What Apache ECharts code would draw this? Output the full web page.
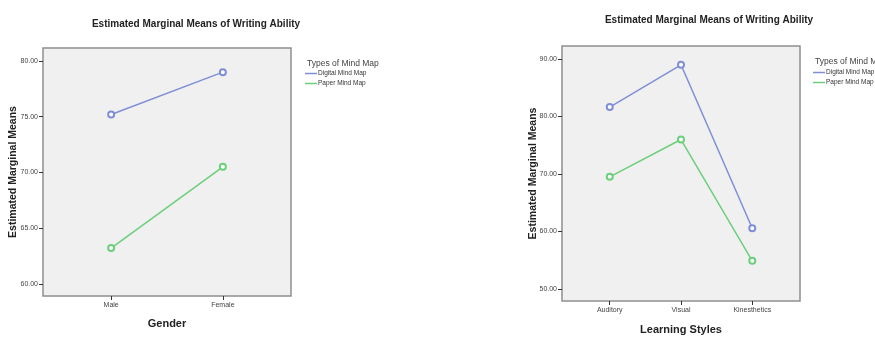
<!DOCTYPE html>
<html><head><meta charset="utf-8">
<script src="https://cdn.jsdelivr.net/npm/echarts@6/dist/echarts.min.js"></script>
<style>html,body{margin:0;padding:0;background:#fff}#c{width:875px;height:340px}</style>
</head><body><div id="c"></div>
<script>
const genderCats = ['Male', 'Female'];
const genderDigital = [75.2, 79.0];
const genderPaper = [63.2, 70.5];
const genderTicks = [60, 65, 70, 75, 80];

const styleCats = ['Auditory', 'Visual', 'Kinesthetics'];
const styleDigital = [81.65, 89.0, 60.55];
const stylePaper = [69.5, 76.0, 54.9];
const styleTicks = [50, 60, 70, 80, 90];

const titleText = 'Estimated Marginal Means of Writing Ability';
const yName = 'Estimated Marginal Means';
const legendTitle = 'Types of Mind Map';
const seriesNames = ['Digital Mind Map', 'Paper Mind Map'];
const colors = ['#7f8fd6', '#6ccf7b'];
const FONT = 'Liberation Sans, Arial, sans-serif';

const chart = echarts.init(document.getElementById('c'), null, {renderer: 'canvas'});

function pts(vals) { return vals.map((v, i) => [i, v]); }

function xAxisFor(gridIndex, cats, pad, name, nameGap) {
  const idx = cats.map((_, i) => i);
  return {
    type: 'value', gridIndex, min: -pad, max: cats.length - 1 + pad, position: 'bottom',
    name, nameLocation: 'middle', nameGap, nameMoveOverlap: false,
    nameTextStyle: {fontFamily: FONT, fontWeight: 'bold', fontSize: 11, color: '#222'},
    axisLine: {show: false, onZero: false},
    axisTick: {show: true, customValues: idx, length: 4, lineStyle: {color: '#333'}},
    axisLabel: {customValues: idx, formatter: v => cats[Math.round(v)] || '', fontFamily: FONT, fontSize: 7, color: '#444', margin: 6},
    splitLine: {show: false}
  };
}
function yAxisFor(gridIndex, min, max, ticks, nameGap) {
  return {
    type: 'value', gridIndex, min, max, position: 'left',
    name: yName, nameLocation: 'middle', nameRotate: 90, nameGap, nameMoveOverlap: false,
    nameTextStyle: {fontFamily: FONT, fontWeight: 'bold', fontSize: 10.5, color: '#222'},
    axisLine: {show: false, onZero: false},
    axisTick: {show: true, customValues: ticks, length: 4, lineStyle: {color: '#333'}},
    axisLabel: {customValues: ticks, formatter: v => v.toFixed(2), fontFamily: FONT, fontSize: 7, color: '#444', margin: 5},
    splitLine: {show: false}
  };
}
function lineSeries(name, data, color, xi) {
  return {
    type: 'line', name, data: pts(data), xAxisIndex: xi, yAxisIndex: xi,
    symbol: 'emptyCircle', symbolSize: 6,
    itemStyle: {color, borderWidth: 1},
    lineStyle: {color, width: 1.5}, animation: false
  };
}
function legendFor(left, top) {
  return {
    left, top, orient: 'vertical', itemGap: 3, itemWidth: 12, itemHeight: 1.5,
    icon: 'rect', data: seriesNames.map(n => ({name: n})),
    textStyle: {fontFamily: FONT, fontSize: 6.5, color: '#333', padding: [0, 0, 0, -4]},
    padding: 0
  };
}

chart.setOption({
  backgroundColor: '#fff',
  title: [
    {text: titleText, left: 191, top: 14, textAlign: 'center', textStyle: {fontFamily: FONT, fontWeight: 'bold', fontSize: 10, color: '#222'}},
    {text: titleText, left: 704, top: 10, textAlign: 'center', textStyle: {fontFamily: FONT, fontWeight: 'bold', fontSize: 10, color: '#222'}},
    {text: legendTitle, left: 302, top: 54, textStyle: {fontFamily: FONT, fontWeight: 'normal', fontSize: 8.5, color: '#444'}},
    {text: legendTitle, left: 810, top: 52, textStyle: {fontFamily: FONT, fontWeight: 'normal', fontSize: 8.5, color: '#444'}}
  ],
  legend: [legendFor(305, 70), legendFor(813, 69)],
  grid: [
    {left: 43, top: 48, width: 248, height: 248, show: true, backgroundColor: '#f0f0f0', borderColor: '#8e8e8e', borderWidth: 1.5},
    {left: 562, top: 46, width: 238, height: 261, show: true, backgroundColor: '#f0f0f0', borderColor: '#8e8e8e', borderWidth: 1.5}
  ],
  xAxis: [
    xAxisFor(0, genderCats, 0.61, 'Gender', 22),
    xAxisFor(1, styleCats, 0.67, 'Learning Styles', 23)
  ],
  yAxis: [
    yAxisFor(0, 58.9, 81.17, genderTicks, 24),
    yAxisFor(1, 47.9, 92.27, styleTicks, 23)
  ],
  series: [
    lineSeries(seriesNames[0], genderDigital, colors[0], 0),
    lineSeries(seriesNames[1], genderPaper, colors[1], 0),
    lineSeries(seriesNames[0], styleDigital, colors[0], 1),
    lineSeries(seriesNames[1], stylePaper, colors[1], 1)
  ]
});
</script></body></html>
